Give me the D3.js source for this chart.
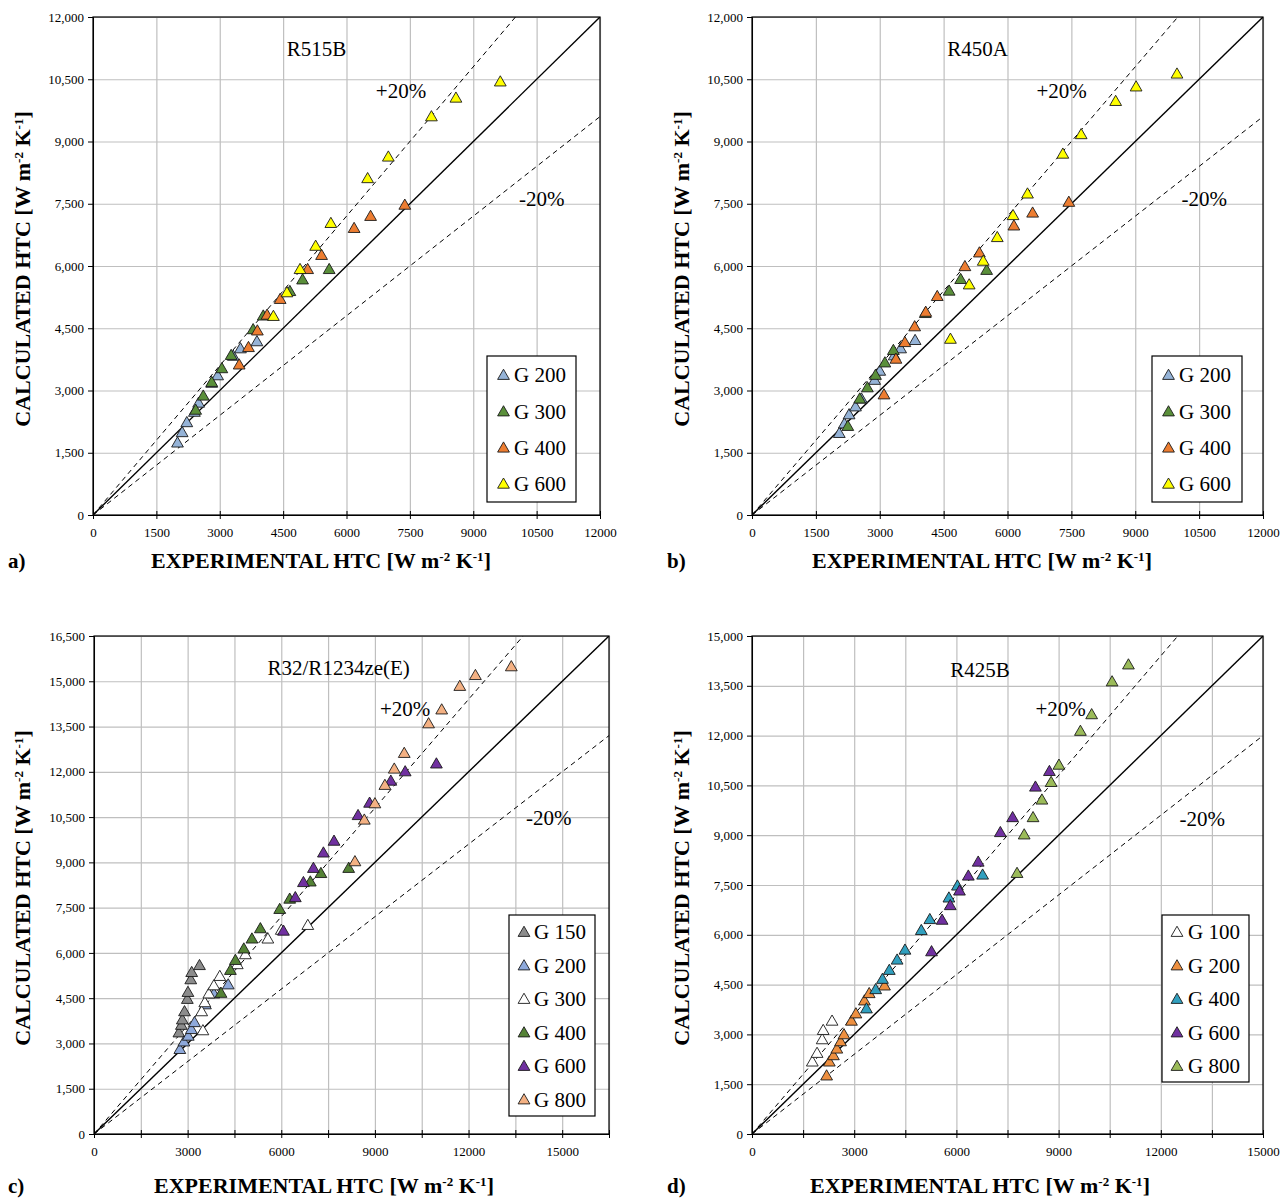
<!DOCTYPE html>
<html>
<head>
<meta charset="utf-8">
<script src="https://cdn.jsdelivr.net/npm/d3@7/dist/d3.min.js"></script>
<style>
  body { margin: 0; background: #fff; }
  svg { display: block; }
  text { font-family: "Liberation Serif", "Times New Roman", serif; fill: #000; }
</style>
</head>
<body>
<svg id="chart" width="1288" height="1200"></svg>
<script>
// ---- tick values ----
const ticksAB = [0, 1500, 3000, 4500, 6000, 7500, 9000, 10500, 12000];
const ticksC = [0, 1500, 3000, 4500, 6000, 7500, 9000, 10500, 12000, 13500, 15000, 16500];
const ticksD = [0, 1500, 3000, 4500, 6000, 7500, 9000, 10500, 12000, 13500, 15000];
const xLabelsCD = [0, 3000, 6000, 9000, 12000, 15000];

// ---- a) R515B  [experimental, calculated] ----
const aG200 = [[2000,1720],[2110,1970],[2220,2210],[2400,2460],[2500,2680],[2810,3160],[2950,3340],[3320,3810],[3490,3990],[3880,4160]];
const aG300 = [[2430,2510],[2610,2850],[2810,3180],[3050,3510],[3270,3830],[3790,4450],[4030,4780],[4660,5370],[4960,5650],[5590,5900]];
const aG400 = [[3460,3600],[3680,4020],[3890,4420],[4120,4800],[4430,5180],[5080,5900],[5410,6240],[6180,6890],[6570,7180],[7380,7450]];
const aG600 = [[4270,4770],[4590,5340],[4900,5900],[5270,6460],[5630,7010],[6500,8090],[6990,8610],[8010,9580],[8590,10030],[9640,10420]];

// ---- b) R450A ----
const bG200 = [[2050,1950],[2170,2180],[2280,2400],[2430,2590],[2570,2780],[2880,3230],[3000,3450],[3340,3820],[3490,3990],[3830,4190]];
const bG300 = [[2250,2120],[2530,2780],[2710,3050],[2900,3350],[3120,3650],[3320,3950],[4070,4840],[4630,5380],[4900,5660],[5510,5880]];
const bG400 = [[3100,2880],[3380,3740],[3590,4140],[3820,4520],[4080,4870],[4350,5250],[5000,5970],[5340,6300],[6150,6950],[6590,7260],[7440,7520]];
const bG600 = [[4660,4220],[5100,5530],[5430,6100],[5760,6670],[6130,7200],[6470,7720],[7300,8680],[7730,9150],[8540,9950],[9020,10300],[9980,10610]];

// ---- c) R32/R1234ze(E) ----
const cG150 = [[2720,3330],[2800,3580],[2830,3760],[2900,4030],[2990,4440],[3010,4670],[3100,5090],[3130,5330],[3380,5560]];
const cG200 = [[2750,2780],[2880,3030],[3020,3220],[3120,3440],[3220,3670],[3570,4260],[3840,4620],[4300,4920]];
const cG300 = [[3490,3400],[3450,4030],[3550,4330],[3680,4620],[3840,4890],[4030,5200],[4590,5590],[4850,5920],[5570,6440],[6000,6730],[6850,6890]];
const cG400 = [[4070,4640],[4370,5400],[4530,5730],[4800,6110],[5060,6440],[5330,6780],[5950,7420],[6270,7760],[6930,8330],[7270,8610],[8160,8780]];
const cG600 = [[6070,6700],[6450,7810],[6710,8310],[7030,8780],[7350,9290],[7690,9680],[8460,10530],[8830,10940],[9510,11670],[9970,11980],[10970,12240]];
const cG800 = [[8360,9000],[8660,10380],[9000,10920],[9320,11530],[9620,12070],[9940,12590],[10720,13570],[11140,14030],[11720,14810],[12220,15170],[13370,15460]];

// ---- d) R425B ----
const dG100 = [[1770,2150],[1910,2410],[2060,2820],[2090,3100],[2350,3380]];
const dG200 = [[2190,1730],[2270,2150],[2390,2340],[2490,2540],[2600,2760],[2700,2970],[2920,3380],[3050,3600],[3300,3990],[3440,4210],[3890,4440]];
const dG400 = [[3360,3750],[3630,4330],[3830,4640],[4030,4910],[4260,5220],[4490,5520],[4970,6110],[5220,6440],[5780,7090],[6030,7450],[6770,7780]];
const dG600 = [[5270,5470],[5580,6420],[5820,6860],[6090,7300],[6350,7750],[6640,8170],[7290,9060],[7650,9510],[8320,10430],[8730,10900]];
const dG800 = [[7780,7830],[7990,8990],[8250,9510],[8510,10040],[8780,10570],[9010,11090],[9640,12110],[9970,12610],[10570,13600],[11050,14110]];

const panels = [
  { label: "a)", name: "R515B", max: 12000, ticks: ticksAB, xLabels: ticksAB,
    box: { l: 93, r: 600, t: 17, b: 515 }, titleDy: 53,
    namePos: [5290, 11230], plusPos: [7290, 10220], minusPos: [10620, 7620],
    titleX: 321, yTitleX: 22, labelX: 8,
    legend: { x: 487, y: 356, w: 89, h: 146, tri: 503.5, tx: 514, rows: [375, 411.5, 447.7, 483.8] },
    series: [
      { name: "G 200", data: aG200, fill: "#95B3D7" },
      { name: "G 300", data: aG300, fill: "#5A8F3A" },
      { name: "G 400", data: aG400, fill: "#ED7D31" },
      { name: "G 600", data: aG600, fill: "#FFFF00" }
    ] },
  { label: "b)", name: "R450A", max: 12000, ticks: ticksAB, xLabels: ticksAB,
    box: { l: 752, r: 1263, t: 17, b: 515 }, titleDy: 53,
    namePos: [5300, 11230], plusPos: [7270, 10220], minusPos: [10620, 7620],
    titleX: 982, yTitleX: 681, labelX: 667,
    legend: { x: 1152, y: 356, w: 90, h: 146, tri: 1168.5, tx: 1179, rows: [375, 411.5, 447.7, 483.8] },
    series: [
      { name: "G 200", data: bG200, fill: "#95B3D7" },
      { name: "G 300", data: bG300, fill: "#5A8F3A" },
      { name: "G 400", data: bG400, fill: "#ED7D31" },
      { name: "G 600", data: bG600, fill: "#FFFF00" }
    ] },
  { label: "c)", name: "R32/R1234ze(E)", max: 16500, ticks: ticksC, xLabels: xLabelsCD,
    box: { l: 94, r: 609, t: 636, b: 1134 }, titleDy: 59,
    namePos: [7840, 15460], plusPos: [9970, 14090], minusPos: [14570, 10470],
    titleX: 324, yTitleX: 22, labelX: 8,
    legend: { x: 509, y: 915, w: 86, h: 201, tri: 524, tx: 534, rows: [932, 965.5, 999, 1032.5, 1066, 1099.5] },
    series: [
      { name: "G 150", data: cG150, fill: "#8C8C8C" },
      { name: "G 200", data: cG200, fill: "#8EA9DB" },
      { name: "G 300", data: cG300, fill: "#FFFFFF" },
      { name: "G 400", data: cG400, fill: "#548235" },
      { name: "G 600", data: cG600, fill: "#7030A0" },
      { name: "G 800", data: cG800, fill: "#F4B183" }
    ] },
  { label: "d)", name: "R425B", max: 15000, ticks: ticksD, xLabels: xLabelsCD,
    box: { l: 752, r: 1263, t: 636, b: 1134 }, titleDy: 59,
    namePos: [6690, 14000], plusPos: [9060, 12800], minusPos: [13220, 9510],
    titleX: 980, yTitleX: 681, labelX: 667,
    legend: { x: 1162, y: 915, w: 87, h: 167, tri: 1177, tx: 1188, rows: [932, 965.5, 999, 1032.5, 1066] },
    series: [
      { name: "G 100", data: dG100, fill: "#FFFFFF" },
      { name: "G 200", data: dG200, fill: "#EE9040" },
      { name: "G 400", data: dG400, fill: "#31A0BF" },
      { name: "G 600", data: dG600, fill: "#7030A0" },
      { name: "G 800", data: dG800, fill: "#9BBB59" }
    ] }
];

const svg = d3.select("#chart");
const tri = d3.symbol().type(d3.symbolTriangle).size(60);
const fmtY = d3.format(",");
const serif = '"Liberation Serif", "Times New Roman", serif';

// title with superscripts
function unitText(sel, prefix) {
  sel.append("tspan").text(prefix + " [W m");
  sel.append("tspan").attr("dy", -7).style("font-size", "13px").text("-2");
  sel.append("tspan").attr("dy", 7).text(" K");
  sel.append("tspan").attr("dy", -7).style("font-size", "13px").text("-1");
  sel.append("tspan").attr("dy", 7).text("]");
}

panels.forEach((p, i) => {
  const B = p.box;
  const x = d3.scaleLinear().domain([0, p.max]).range([B.l, B.r]);
  const y = d3.scaleLinear().domain([0, p.max]).range([B.b, B.t]);
  const w = B.r - B.l, h = B.b - B.t;
  const g = svg.append("g");

  svg.append("clipPath").attr("id", "clip" + i)
    .append("rect").attr("x", B.l).attr("y", B.t).attr("width", w).attr("height", h);

  // grid
  g.append("g").attr("transform", `translate(0,${B.b})`)
    .call(d3.axisBottom(x).tickValues(p.ticks).tickSize(-h).tickFormat(""))
    .call(s => s.select(".domain").remove())
    .call(s => s.selectAll("line").attr("stroke", "#BFBFBF").attr("stroke-width", 1.2));
  g.append("g").attr("transform", `translate(${B.l},0)`)
    .call(d3.axisLeft(y).tickValues(p.ticks).tickSize(-w).tickFormat(""))
    .call(s => s.select(".domain").remove())
    .call(s => s.selectAll("line").attr("stroke", "#BFBFBF").attr("stroke-width", 1.2));

  // frame
  g.append("rect").attr("x", B.l).attr("y", B.t).attr("width", w).attr("height", h)
    .attr("fill", "none").attr("stroke", "#000").attr("stroke-width", 1.2);

  // y axis
  g.append("g").attr("transform", `translate(${B.l},0)`)
    .call(d3.axisLeft(y).tickValues(p.ticks).tickSize(5).tickPadding(4).tickFormat(fmtY))
    .call(s => s.select(".domain").attr("stroke", "#000"))
    .call(s => s.selectAll("text").style("font-size", "13px").style("font-family", serif));

  // x axis
  g.append("g").attr("transform", `translate(0,${B.b})`)
    .call(d3.axisBottom(x).tickValues(p.ticks).tickSize(4).tickPadding(9)
      .tickFormat(v => p.xLabels.includes(v) ? String(v) : ""))
    .call(s => s.select(".domain").attr("stroke", "#000"))
    .call(s => s.selectAll(".tick line").attr("y1", -4).attr("y2", 4))
    .call(s => s.selectAll("text").style("font-size", "13px").style("font-family", serif));

  // reference lines
  const lines = g.append("g").attr("clip-path", `url(#clip${i})`);
  const ln = d3.line().x(d => x(d[0])).y(d => y(d[1]));
  lines.append("path").attr("d", ln([[0, 0], [p.max, p.max]]))
    .attr("stroke", "#000").attr("stroke-width", 1.4).attr("fill", "none");
  lines.append("path").attr("d", ln([[0, 0], [p.max / 1.2, p.max]]))
    .attr("stroke", "#000").attr("stroke-width", 1).attr("stroke-dasharray", "5,4").attr("fill", "none");
  lines.append("path").attr("d", ln([[0, 0], [p.max, p.max * 0.8]]))
    .attr("stroke", "#000").attr("stroke-width", 1).attr("stroke-dasharray", "5,4").attr("fill", "none");

  // annotations
  const ann = (pos, txt) => g.append("text").attr("x", x(pos[0])).attr("y", y(pos[1]))
    .attr("dy", "0.35em").attr("text-anchor", "middle").style("font-size", "21px").text(txt);
  ann(p.namePos, p.name);
  ann(p.plusPos, "+20%");
  ann(p.minusPos, "-20%");

  // markers
  p.series.forEach(s => {
    g.append("g").selectAll("path").data(s.data).enter().append("path")
      .attr("d", tri)
      .attr("transform", d => `translate(${x(d[0])},${y(d[1])})`)
      .attr("fill", s.fill).attr("stroke", "#1a1a1a").attr("stroke-width", 0.9);
  });

  // legend
  const L = p.legend;
  g.append("rect").attr("x", L.x).attr("y", L.y).attr("width", L.w).attr("height", L.h)
    .attr("fill", "#fff").attr("stroke", "#000").attr("stroke-width", 1.2);
  p.series.forEach((s, k) => {
    g.append("path").attr("d", tri).attr("transform", `translate(${L.tri},${L.rows[k] + 1})`)
      .attr("fill", s.fill).attr("stroke", "#1a1a1a").attr("stroke-width", 0.9);
    g.append("text").attr("x", L.tx).attr("y", L.rows[k]).attr("dy", "0.35em")
      .style("font-size", "21px").text(s.name);
  });

  // axis titles
  const xt = g.append("text").attr("x", p.titleX).attr("y", B.b + p.titleDy)
    .attr("text-anchor", "middle").style("font-size", "22px").style("font-weight", "bold");
  unitText(xt, "EXPERIMENTAL HTC");
  const yt = g.append("text").attr("transform", `translate(${p.yTitleX + 8},${(B.t + B.b) / 2 + 3}) rotate(-90)`)
    .attr("text-anchor", "middle").style("font-size", "22px").style("font-weight", "bold");
  unitText(yt, "CALCULATED HTC");

  g.append("text").attr("x", p.labelX).attr("y", B.b + p.titleDy)
    .style("font-size", "21px").style("font-weight", "bold").text(p.label);
});
</script>
</body>
</html>
